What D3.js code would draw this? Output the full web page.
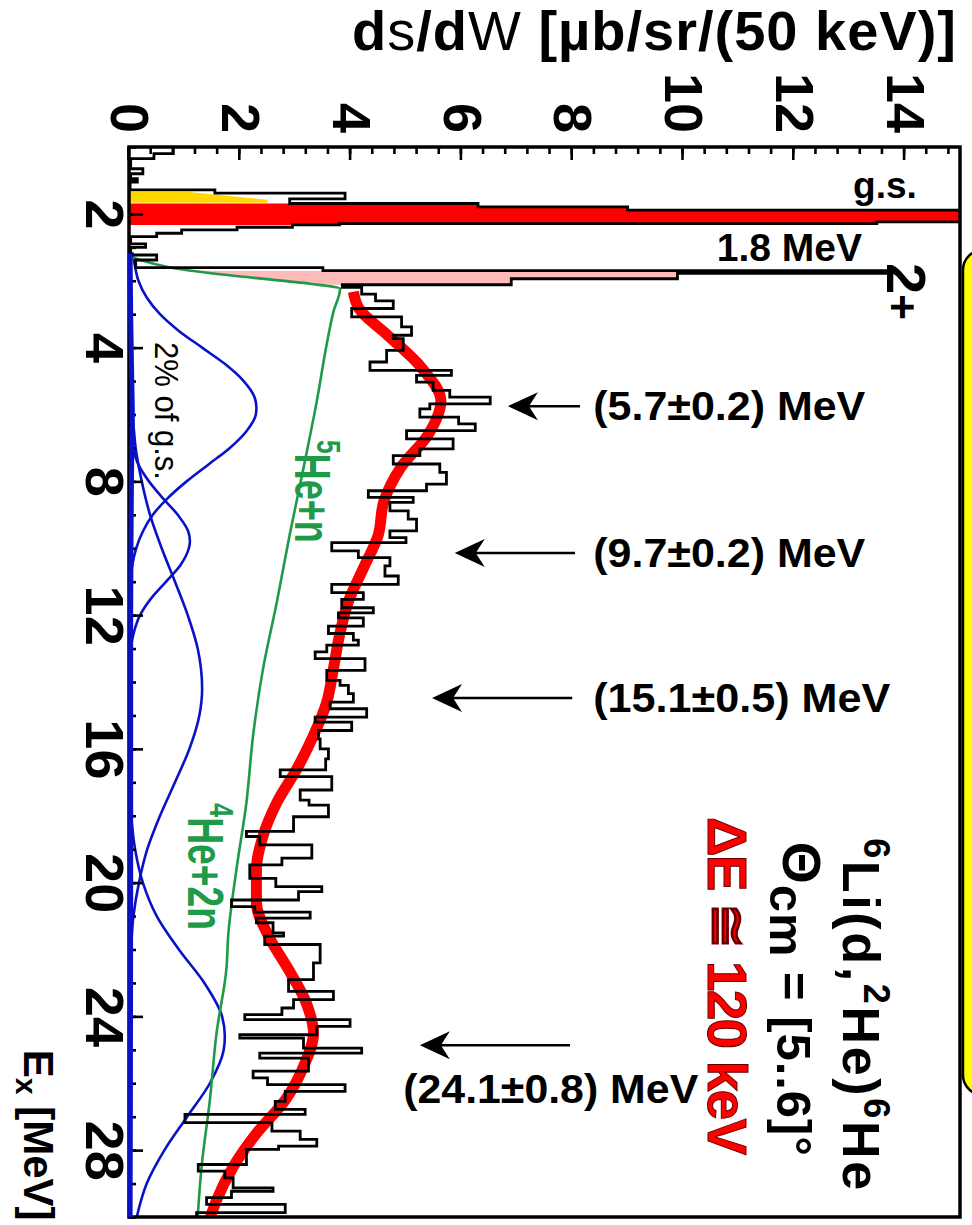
<!DOCTYPE html>
<html>
<head>
<meta charset="utf-8">
<script src="https://cdn.jsdelivr.net/npm/d3@7"></script>
<style>
  body { margin: 0; background: #fff; }
  svg { display: block; font-family: "Liberation Sans", Arial, Helvetica, sans-serif; }
</style>
</head>
<body>
<svg id="chart" width="972" height="1225"></svg>
<script>
const W = 972, H = 1225;
const FONT = '"Liberation Sans", Arial, Helvetica, sans-serif';

// measured spectrum: lower bin edge Ex [MeV] and dsigma/dOmega [ub/sr/(50 keV)]
const binEx = [-2.0, -1.8, -1.65, -1.35, -1.2, -1.05, -0.95, -0.72, -0.62, -0.45,
  -0.31, -0.21, -0.11, 0.24, 0.29, 0.33, 0.4, 0.48, 0.58, 0.68,
  0.9, 1.0, 1.23, 1.38, 1.61, 1.7, 1.78, 1.94, 2.12, 2.2,
  2.4, 2.6, 2.83, 3.08, 3.38, 3.63, 3.73, 4.08, 4.43, 4.68,
  4.83, 5.03, 5.28, 5.48, 5.68, 5.83, 6.08, 6.28, 6.48, 6.73,
  7.03, 7.23, 7.48, 7.73, 8.08, 8.28, 8.48, 8.63, 8.88, 9.13,
  9.48, 9.68, 9.83, 10.08, 10.28, 10.53, 10.83, 11.08, 11.33, 11.53,
  11.78, 11.93, 12.08, 12.33, 12.55, 12.75, 12.9, 13.1, 13.3, 13.65,
  13.95, 14.1, 14.35, 14.6, 14.8, 15.05, 15.2, 15.45, 15.7, 16.0,
  16.3, 16.63, 16.83, 17.23, 17.53, 17.68, 18.03, 18.47, 18.62, 18.87,
  19.27, 19.47, 19.87, 20.12, 20.27, 20.52, 20.72, 20.88, 21.06, 21.2,
  21.5, 21.6, 21.85, 22.4, 22.9, 23.25, 23.5, 23.75, 23.95, 24.1,
  24.3, 24.55, 24.65, 24.95, 25.1, 25.25, 25.64, 25.84, 26.04, 26.24,
  26.54, 26.78, 26.93, 27.18, 27.43, 27.68, 27.88, 27.98, 28.43, 28.63,
  28.83, 29.13, 29.23, 29.42, 29.62, 29.87];
const binVal = [0.8, 0.45, 0.03, 0.25, 0.03, 0.15, 0.02, 1.55, 3.9, 2.9,
  6.3, 9.0, 30, 13.5, 3.8, 2.95, 1.95, 0.95, 0.5, 0.03,
  0.3, 0.03, 0.5, 0.12, 3.5, 13.7, 9.9, 6.9, 3.85, 4.2,
  4.45, 4.77, 4.02, 4.92, 5.1, 4.77, 4.95, 4.65, 4.35, 5.82,
  5.19, 5.49, 5.79, 6.52, 5.43, 5.25, 5.95, 6.25, 5.01, 5.85,
  5.25, 4.77, 5.61, 5.73, 5.37, 4.32, 5.13, 4.71, 5.04, 5.19,
  4.71, 5.0, 3.66, 4.14, 4.71, 4.62, 4.86, 3.66, 4.23, 3.84,
  4.41, 3.78, 4.23, 3.6, 4.05, 4.14, 3.57, 3.36, 4.26, 3.57,
  3.81, 3.96, 4.05, 3.63, 4.29, 3.36, 4.02, 3.42, 3.45, 3.6,
  3.55, 2.73, 3.66, 3.09, 3.25, 3.6, 2.97, 2.12, 2.36, 3.3,
  2.76, 2.18, 2.65, 3.48, 3.06, 1.85, 2.27, 3.27, 2.3, 2.6,
  2.79, 2.45, 3.45, 3.33, 2.88, 3.69, 2.97, 2.76, 2.09, 3.99,
  3.39, 2.0, 3.15, 4.2, 2.36, 3.24, 2.24, 2.5, 3.9, 2.82,
  2.64, 3.18, 1.01, 2.58, 3.09, 3.39, 2.7, 2.12, 1.25, 1.73,
  1.88, 2.6, 1.85, 1.4, 2.82, 1.22];
const binEnd = 30;

// highlighted peaks
const gsRange = [-0.31, 0.33];       // red, ground state
const twoPlusRange = [1.7, 2.12];    // pink, 2+ state
const yellowEx = [-0.66, -0.66, -0.42, -0.33, -0.33];
const yellowVal = [0, 1.06, 2.5, 2.5, 0];

// phase space 5He+n / 4He+2n (green)
const psEx = [1.3, 1.45, 1.64, 1.88, 2.09, 2.24, 2.93, 3.8, 5.6, 7.6, 9.6, 11.6, 13.6, 15.6, 17.6, 19.6, 21.6, 22.55, 24.5, 26.5, 28.5, 30];
const psVal = [0.05, 0.35, 0.87, 2.06, 3.27, 3.81, 3.69, 3.58, 3.39, 3.15, 2.9, 2.67, 2.42, 2.24, 2.12, 1.94, 1.79, 1.76, 1.58, 1.46, 1.31, 1.24];

// total fit (red band)
const fitEx = [2.33, 2.83, 3.6, 4.6, 5.6, 6.6, 7.6, 8.6, 9.6, 10.6, 11.6, 12.6, 13.6, 14.6, 15.6, 16.6, 17.6, 18.6, 19.6, 20.6, 21.6, 22.6, 23.6, 24.5, 25.5, 26.5, 27.5, 28.5, 29.5, 30];
const fitVal = [4.05, 4.15, 4.65, 5.28, 5.63, 5.4, 4.9, 4.6, 4.5, 4.23, 3.96, 3.8, 3.69, 3.57, 3.33, 3.03, 2.67, 2.42, 2.3, 2.3, 2.52, 2.88, 3.2, 3.33, 3.15, 2.82, 2.3, 1.88, 1.58, 1.47];

// resonance components (blue)
const res57Ex = [1.15, 1.5, 2, 2.5, 3, 3.5, 4, 4.5, 5, 5.5, 5.8, 6, 6.5, 7, 7.5, 8, 8.5, 9, 9.5, 10, 10.5, 11, 12];
const res57Val = [0.06, 0.1, 0.17, 0.32, 0.56, 0.9, 1.32, 1.74, 2.07, 2.27, 2.3, 2.29, 2.12, 1.82, 1.43, 1.04, 0.7, 0.43, 0.25, 0.13, 0.06, 0.03, 0.0];
const res97Ex = [6.5, 7, 7.5, 8, 8.5, 9, 9.5, 9.8, 10, 10.5, 11, 11.5, 12, 12.5, 13, 13.5];
const res97Val = [0.02, 0.07, 0.17, 0.36, 0.61, 0.88, 1.07, 1.1, 1.08, 0.93, 0.67, 0.4, 0.2, 0.09, 0.03, 0.01];
const res151Ex = [6, 6.5, 7, 8, 9, 10, 11, 12, 13, 14.2, 15, 16, 17, 18, 19, 20, 21, 22, 23];
const res151Val = [0.06, 0.09, 0.12, 0.23, 0.38, 0.59, 0.83, 1.06, 1.24, 1.32, 1.27, 1.09, 0.83, 0.56, 0.33, 0.18, 0.08, 0.035, 0.01];
const res241Ex = [17, 18, 19, 20, 21, 22, 23, 24, 24.6, 25, 26, 27, 28, 29, 30];
const res241Val = [0.01, 0.04, 0.11, 0.25, 0.5, 0.9, 1.36, 1.68, 1.73, 1.71, 1.46, 1.05, 0.64, 0.32, 0.14];
const gs2Ex = [1.2, 3, 5, 6, 7, 9, 12, 20, 30];
const gs2Val = [0.02, 0.03, 0.05, 0.06, 0.05, 0.04, 0.03, 0.03, 0.02];

// axes
const exTicks = [0, 4, 8, 12, 16, 20, 24, 28];
const exTickLabels = ['2', '4', '8', '12', '16', '20', '24', '28'];
const valTicks = [0, 2, 4, 6, 8, 10, 12, 14];

// resonance arrows (screen-horizontal)
const arrowEx = [5.75, 10.14, 14.48, 24.86];
const arrowTip = [6.84, 5.88, 5.47, 5.25];
const arrowTail = [8.14, 8.05, 8.0, 7.96];
const arrowText = ['(5.7±0.2) MeV', '(9.7±0.2) MeV', '(15.1±0.5) MeV', '(24.1±0.8) MeV'];
const arrowTextVal = [8.38, 8.38, 8.38, 4.95];
const arrowTextEx = [6.16, 10.56, 14.9, 26.59];
const arrowTextLen = [272, 272, 297, 295];

const svg = d3.select('#chart');

// Ex runs along the original horizontal axis, the cross section up; the whole
// figure is then turned a quarter turn clockwise
const x = d3.scaleLinear().domain([-2, 30]).range([147, 1217]);
const y = d3.scaleLinear().domain([0, 15]).range([843, 12]);
const sx = v => W - y(v);   // screen x of a value
const sy = e => x(e);       // screen y of an Ex

// yellow panel peeking in at the right edge
svg.append('rect')
  .attr('x', 963).attr('y', 250).attr('width', 60).attr('height', 845)
  .attr('rx', 20).attr('fill', '#ffff00').attr('stroke', '#000').attr('stroke-width', 2.5);

svg.append('defs').append('clipPath').attr('id', 'plotClip')
  .append('rect')
  .attr('x', x(-2)).attr('y', y(15))
  .attr('width', x(30) - x(-2)).attr('height', y(0) - y(15));

const g = svg.append('g').attr('transform', `translate(${W},0) rotate(90)`);
const plot = g.append('g').attr('clip-path', 'url(#plotClip)');

const hist = d3.zip(binEx, binVal);
hist.push([binEnd, binVal[binVal.length - 1]]);

const stepLine = d3.line().x(d => x(d[0])).y(d => y(d[1])).curve(d3.curveStepAfter);
const smooth = d3.line().x(d => x(d[0])).y(d => y(d[1])).curve(d3.curveMonotoneX);

// yellow component under the g.s.
plot.append('path')
  .attr('d', d3.line().x(d => x(d[0])).y(d => y(d[1]))(d3.zip(yellowEx, yellowVal)) + 'Z')
  .attr('fill', '#ffd800');

// red g.s. fill
let gsPts = hist.filter(d => d[0] >= gsRange[0] && d[0] < gsRange[1]);
gsPts.push([gsRange[1], gsPts[gsPts.length - 1][1]]);
plot.append('path')
  .attr('d', d3.area().x(d => x(d[0])).y0(y(0)).y1(d => y(d[1])).curve(d3.curveStepAfter)(gsPts))
  .attr('fill', '#ff0000');

// pink 2+ fill between the phase space and the histogram
const greenAt = d3.scaleLinear().domain(psEx).range(psVal);
const pinkPts = [];
hist.forEach((d, i) => {
  if (d[0] >= twoPlusRange[0] && d[0] < twoPlusRange[1]) {
    pinkPts.push([d[0], d[1]]);
    pinkPts.push([hist[i + 1][0], d[1]]);
  }
});
plot.append('path')
  .attr('d', d3.area().x(d => x(d[0])).y0(d => y(greenAt(d[0]))).y1(d => y(d[1]))(pinkPts))
  .attr('fill', '#ffbaba');

// blue components
const blue = '#0a12c8';
[[res57Ex, res57Val], [res97Ex, res97Val], [res151Ex, res151Val], [res241Ex, res241Val]].forEach(([ex, val]) => {
  plot.append('path').attr('d', smooth(d3.zip(ex, val)))
    .attr('fill', 'none').attr('stroke', blue).attr('stroke-width', 2.6);
});

// phase space
plot.append('path').attr('d', smooth(d3.zip(psEx, psVal)))
  .attr('fill', 'none').attr('stroke', '#1f9a48').attr('stroke-width', 2.6);

// fit
plot.append('path').attr('d', smooth(d3.zip(fitEx, fitVal)))
  .attr('fill', 'none').attr('stroke', '#ff0000').attr('stroke-width', 11);

// histogram
plot.append('path').attr('d', stepLine(hist))
  .attr('fill', 'none').attr('stroke', '#000').attr('stroke-width', 2.8)
  .attr('stroke-linejoin', 'miter');

// axes
function styleAxis(sel) {
  sel.select('.domain').remove();
  sel.selectAll('line').attr('stroke', '#000').attr('stroke-width', 2.6);
  sel.selectAll('text').attr('font-size', 54).attr('font-weight', 'bold')
    .attr('font-family', FONT).attr('fill', '#000');
}
const exLabel = new Map(d3.zip(exTicks, exTickLabels));
g.append('g').attr('transform', `translate(0,${y(0)})`)
  .call(d3.axisBottom(x).tickValues(d3.range(-2, 31, 1)).tickSize(-7).tickFormat(''))
  .call(styleAxis);
g.append('g').attr('transform', `translate(0,${y(0)})`)
  .call(d3.axisBottom(x).tickValues(exTicks).tickSize(-14).tickPadding(5).tickFormat(d => exLabel.get(d)))
  .call(styleAxis);
g.append('g').attr('transform', `translate(${x(-2)},0)`)
  .call(d3.axisLeft(y).tickValues(d3.range(0, 15.01, 0.4)).tickSize(-7).tickFormat(''))
  .call(styleAxis);
g.append('g').attr('transform', `translate(${x(-2)},0)`)
  .call(d3.axisLeft(y).tickValues(valTicks).tickSize(-13).tickPadding(14).tickFormat(d3.format('d')))
  .call(styleAxis);

// frame
g.append('rect')
  .attr('x', x(-2)).attr('y', y(15))
  .attr('width', x(30) - x(-2)).attr('height', y(0) - y(15))
  .attr('fill', 'none').attr('stroke', '#000').attr('stroke-width', 3.5);

// "2% of g.s." component lies on the axis, drawn over the frame
g.append('path').attr('d', smooth(d3.zip(gs2Ex, gs2Val)))
  .attr('fill', 'none').attr('stroke', blue).attr('stroke-width', 5);

// text made of parts with raised / lowered pieces
function richText(parent, px, py, parts, attrs) {
  const t = parent.append('text').attr('x', px).attr('y', py)
    .attr('font-family', FONT);
  Object.entries(attrs).forEach(([k, v]) => t.attr(k, v));
  let shift = 0;
  parts.forEach(p => {
    const s = p.shift || 0;
    const ts = t.append('tspan').text(p.t).attr('dy', s - shift);
    if (p.size) ts.attr('font-size', p.size);
    if (p.weight) ts.attr('font-weight', p.weight);
    shift = s;
  });
  return t;
}

// rotated labels (inside the turned figure)
richText(g, x(18.67), y(12.89), [
  { t: '6', size: 36, shift: -21 }, { t: 'Li(d,' }, { t: '2', size: 36, shift: -21 },
  { t: 'He)' }, { t: '6', size: 36, shift: -21 }, { t: 'He' }
], { 'font-size': 52, 'font-weight': 'bold', fill: '#000', textLength: 352, lengthAdjust: 'spacing' });

richText(g, x(18.78), y(11.70), [
  { t: 'Θ', size: 54, shift: -6 }, { t: 'cm', shift: 7 }, { t: ' = [5..6]°' }
], { 'font-size': 49, 'font-weight': 'bold', fill: '#000', textLength: 314, lengthAdjust: 'spacing' });

richText(g, x(18.04), y(10.45), [{ t: 'ΔE ≅ 120 keV' }],
  { 'font-size': 55, 'font-weight': 'bold', fill: '#ff0000', stroke: '#600', 'stroke-width': 1,
    textLength: 338, lengthAdjust: 'spacing' });

richText(g, x(3.83), y(0.47), [{ t: '2% of g.s.' }],
  { 'font-size': 34, fill: '#000', textLength: 138, lengthAdjust: 'spacingAndGlyphs' });

richText(g, x(6.76), y(3.0), [{ t: '5', size: 34, shift: -22 }, { t: 'He+n' }],
  { 'font-size': 50, 'font-weight': 'bold', fill: '#1f9a48', textLength: 103, lengthAdjust: 'spacingAndGlyphs' });

richText(g, x(17.62), y(1.06), [{ t: '4', size: 34, shift: -22 }, { t: 'He+2n' }],
  { 'font-size': 50, 'font-weight': 'bold', fill: '#1f9a48', textLength: 127, lengthAdjust: 'spacingAndGlyphs' });

richText(g, x(1.47), y(13.68), [{ t: '2' }, { t: '+', size: 44 }],
  { 'font-size': 56, 'font-weight': 'bold', fill: '#000' });

richText(g, x(25.0), y(-1.9), [{ t: 'E' }, { t: 'x', size: 30, shift: 8 }, { t: ' [MeV]' }],
  { 'font-size': 42, 'font-weight': 'bold', fill: '#000' });

// screen-horizontal labels
richText(svg, 352, 50, [
  { t: 'd' }, { t: 's', weight: 'normal' }, { t: '/d' }, { t: 'W', weight: 'normal' },
  { t: ' [µb/sr/(50 keV)]' }
], { 'font-size': 56, 'font-weight': 'bold', fill: '#000', textLength: 604, lengthAdjust: 'spacing' });

svg.append('text').attr('x', sx(14.22)).attr('y', sy(-0.47))
  .attr('text-anchor', 'end').attr('font-family', FONT)
  .attr('font-size', 37).attr('font-weight', 'bold').text('g.s.');
svg.append('text').attr('x', sx(13.23)).attr('y', sy(1.41))
  .attr('text-anchor', 'end').attr('font-family', FONT)
  .attr('font-size', 39).attr('font-weight', 'bold').text('1.8 MeV');

arrowEx.forEach((e, i) => {
  const ty = sy(e), tx = sx(arrowTip[i]);
  svg.append('line')
    .attr('x1', tx + 20).attr('y1', ty).attr('x2', sx(arrowTail[i])).attr('y2', ty)
    .attr('stroke', '#000').attr('stroke-width', 2.5);
  svg.append('path')
    .attr('d', `M${tx},${ty}L${tx + 30},${ty - 14}L${tx + 21},${ty}L${tx + 30},${ty + 14}Z`)
    .attr('fill', '#000');
  svg.append('text')
    .attr('x', sx(arrowTextVal[i])).attr('y', sy(arrowTextEx[i]))
    .attr('font-family', FONT).attr('font-size', 40).attr('font-weight', 'bold')
    .attr('textLength', arrowTextLen[i]).attr('lengthAdjust', 'spacingAndGlyphs')
    .text(arrowText[i]);
});
</script>
</body>
</html>
